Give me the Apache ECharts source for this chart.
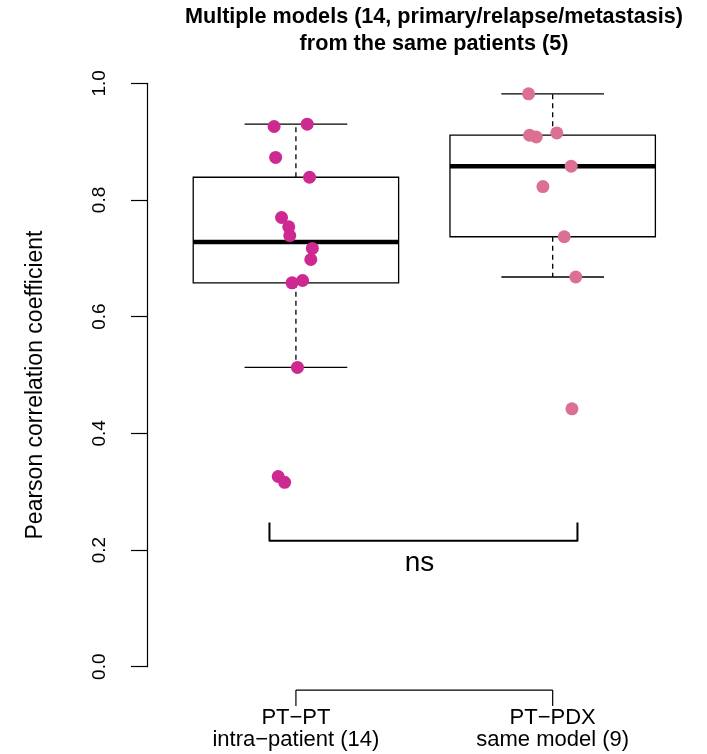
<!DOCTYPE html>
<html><head><meta charset="utf-8">
<script src="https://cdn.jsdelivr.net/npm/echarts@6/dist/echarts.min.js"></script>
<style>html,body{margin:0;padding:0;background:#fff}#c{width:707px;height:754px}</style>
</head><body><div id="c"></div><script>
// ---- data ----
const categories = ['PT\u2212PT', 'PT\u2212PDX'];
const subLabels = ['intra\u2212patient (14)', 'same model (9)'];
const categoryPos = [1, 2];
const yTicks = [0, 0.2, 0.4, 0.6, 0.8, 1.0];
const ptptValues = [0.926, 0.930, 0.873, 0.839, 0.770, 0.754, 0.739, 0.717, 0.698, 0.658, 0.662, 0.513, 0.326, 0.316];
const ptptJitterX = [0.915, 1.044, 0.921, 1.053, 0.944, 0.972, 0.976, 1.064, 1.058, 0.985, 1.026, 1.006, 0.931, 0.956];
const ptpdxValues = [0.982, 0.911, 0.908, 0.915, 0.858, 0.823, 0.737, 0.668, 0.442];
const ptpdxJitterX = [1.906, 1.910, 1.936, 2.016, 2.072, 1.962, 2.045, 2.090, 2.075];
const sigLabel = 'ns';
const titleText = 'Multiple models (14, primary/relapse/metastasis)\nfrom the same patients (5)';
const yName = 'Pearson correlation coefficient';

// ---- boxplot statistics (R boxplot.stats) ----
function fivenum(v) {
  const s = v.slice().sort((a, b) => a - b), n = s.length;
  const n4 = Math.floor((n + 3) / 2) / 2;
  const d = [1, n4, (n + 1) / 2, n + 1 - n4, n];
  return d.map(i => 0.5 * (s[Math.floor(i) - 1] + s[Math.ceil(i) - 1]));
}
function boxStats(v) {
  const f = fivenum(v), iqr = f[3] - f[1];
  const lo = Math.min(...v.filter(x => x >= f[1] - 1.5 * iqr));
  const hi = Math.max(...v.filter(x => x <= f[3] + 1.5 * iqr));
  return [lo, f[1], f[2], f[3], hi];
}
const boxData = [
  [categoryPos[0], ...boxStats(ptptValues)],
  [categoryPos[1], ...boxStats(ptpdxValues)]
];

const FONT = '"Liberation Sans", Arial, Helvetica, sans-serif';
const BOX_HALF = 0.4, CAP_HALF = 0.2;

function renderBox(params, api) {
  const x = api.value(0);
  const lo = api.value(1), q1 = api.value(2), med = api.value(3), q3 = api.value(4), hi = api.value(5);
  const tl = api.coord([x - BOX_HALF, q3]);
  const br = api.coord([x + BOX_HALF, q1]);
  const mL = api.coord([x - BOX_HALF, med]), mR = api.coord([x + BOX_HALF, med]);
  const c = api.coord([x, q3]), cHi = api.coord([x, hi]), cLo = api.coord([x, lo]), cQ1 = api.coord([x, q1]);
  const capL = api.coord([x - CAP_HALF, hi])[0], capR = api.coord([x + CAP_HALF, hi])[0];
  const black = '#000';
  return {
    type: 'group',
    children: [
      { type: 'line', shape: { x1: c[0], y1: c[1], x2: cHi[0], y2: cHi[1] }, style: { stroke: black, lineWidth: 1.3, lineDash: [5, 4] } },
      { type: 'line', shape: { x1: cQ1[0], y1: cQ1[1], x2: cLo[0], y2: cLo[1] }, style: { stroke: black, lineWidth: 1.3, lineDash: [5, 4] } },
      { type: 'line', shape: { x1: capL, y1: cHi[1], x2: capR, y2: cHi[1] }, style: { stroke: black, lineWidth: 1.3 } },
      { type: 'line', shape: { x1: capL, y1: cLo[1], x2: capR, y2: cLo[1] }, style: { stroke: black, lineWidth: 1.3 } },
      { type: 'rect', shape: { x: tl[0], y: tl[1], width: br[0] - tl[0], height: br[1] - tl[1] }, style: { fill: 'none', stroke: black, lineWidth: 1.3 } },
      { type: 'line', shape: { x1: mL[0], y1: mL[1], x2: mR[0], y2: mR[1] }, style: { stroke: black, lineWidth: 4.5 } }
    ]
  };
}

// bottom axis (R axis line between the two categories, at plot-region bottom, ticks downward)
const AXIS_BOTTOM = -0.04, TICK_LEN = 16;
function renderAxisLine(params, api) {
  const a = api.coord([api.value(0), AXIS_BOTTOM]);
  const b = api.coord([api.value(1), AXIS_BOTTOM]);
  const st = { stroke: '#000', lineWidth: 1.2 };
  return {
    type: 'group',
    children: [
      { type: 'line', shape: { x1: a[0], y1: a[1], x2: b[0], y2: b[1] }, style: st },
      { type: 'line', shape: { x1: a[0], y1: a[1], x2: a[0], y2: a[1] + TICK_LEN }, style: st },
      { type: 'line', shape: { x1: b[0], y1: b[1], x2: b[0], y2: b[1] + TICK_LEN }, style: st }
    ]
  };
}

// significance bracket
const SIG = { x1: 0.897, x2: 2.0965, yTop: 0.247, yBar: 0.216, textX: 1.481, textY: 0.177 };
function renderSig(params, api) {
  const p1 = api.coord([SIG.x1, SIG.yTop]), p2 = api.coord([SIG.x1, SIG.yBar]);
  const p3 = api.coord([SIG.x2, SIG.yBar]), p4 = api.coord([SIG.x2, SIG.yTop]);
  const t = api.coord([SIG.textX, SIG.textY]);
  return {
    type: 'group',
    children: [
      { type: 'polyline', shape: { points: [p1, p2, p3, p4] }, style: { stroke: '#000', lineWidth: 2, lineJoin: 'round', fill: 'none' } },
      { type: 'text', x: t[0], y: t[1], style: { text: sigLabel, fontSize: 28, fontFamily: FONT, fill: '#000', align: 'center', verticalAlign: 'middle' } }
    ]
  };
}

const chart = echarts.init(document.getElementById('c'), null, { renderer: 'canvas' });
chart.setOption({
  backgroundColor: '#fff',
  animation: false,
  title: {
    text: titleText, left: 434, top: 4, padding: 0, textAlign: 'center',
    textStyle: { fontFamily: FONT, fontWeight: 'bold', fontSize: 21.6, lineHeight: 27, color: '#000' }
  },
  graphic: [{
    type: 'text', x: 36, y: 385, rotation: Math.PI / 2,
    style: { text: yName, fontFamily: FONT, fontSize: 23, fill: '#000', align: 'center', verticalAlign: 'middle' }
  }],
  grid: { left: 147, right: 5.4, top: 83.3, bottom: 87.3, containLabel: false },
  xAxis: {
    type: 'value', min: 0.42, max: 2.58, offset: 24,
    axisLine: { show: false }, splitLine: { show: false },
    axisTick: { show: false },
    axisLabel: {
      show: true, customValues: categoryPos, margin: 16,
      formatter: v => categories[Math.round(v) - 1] + '\n' + subLabels[Math.round(v) - 1],
      fontFamily: FONT, fontSize: 22, lineHeight: 22, color: '#000'
    }
  },
  yAxis: {
    type: 'value', min: 0, max: 1, interval: 0.2,
    axisLine: { show: true, lineStyle: { color: '#000', width: 1.2 } },
    axisTick: { show: true, length: 16, lineStyle: { color: '#000', width: 1.2 } },
    splitLine: { show: false },
    axisLabel: {
      rotate: 90, margin: 38, fontFamily: FONT, fontSize: 19, color: '#000',
      customValues: yTicks, formatter: v => v.toFixed(1)
    }
  },
  series: [
    { type: 'custom', renderItem: renderBox, data: boxData, clip: false, z: 2, silent: true },
    { type: 'custom', renderItem: renderAxisLine, data: [categoryPos], clip: false, z: 2, silent: true },
    { type: 'custom', renderItem: renderSig, data: [[0]], clip: false, z: 2, silent: true },
    { type: 'scatter', data: ptptJitterX.map((x, i) => [x, ptptValues[i]]), symbolSize: 13, itemStyle: { color: '#CD2990', opacity: 1 }, z: 5, silent: true },
    { type: 'scatter', data: ptpdxJitterX.map((x, i) => [x, ptpdxValues[i]]), symbolSize: 13, itemStyle: { color: '#DB7093', opacity: 1 }, z: 5, silent: true }
  ]
});
</script></body></html>
